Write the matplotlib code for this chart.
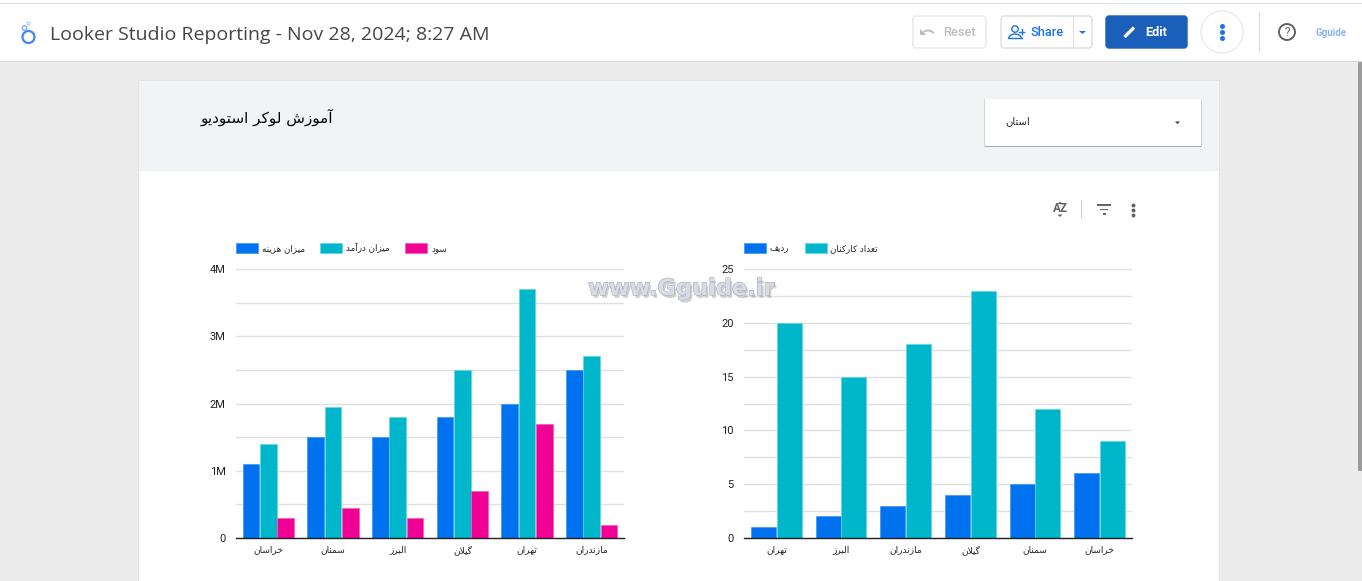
import matplotlib
matplotlib.use('Agg')
import numpy as np
import matplotlib.pyplot as plt
import matplotlib.patheffects as pe
from matplotlib.patches import Rectangle, FancyBboxPatch, Circle, Arc, Polygon

W, H = 1362, 581

# left chart
provinces_left = ['خراسان', 'سمنان', 'البرز', 'گیلان', 'تهران', 'مازندران']
cost = [1100000, 1500000, 1500000, 1800000, 2000000, 2500000]
income = [1400000, 1950000, 1800000, 2500000, 3700000, 2700000]
profit = [300000, 450000, 300000, 700000, 1700000, 200000]
left_ticks = [0, 1000000, 2000000, 3000000, 4000000]
left_ticklabels = ['0', '1M', '2M', '3M', '4M']
left_minor = [500000, 1500000, 2500000, 3500000]

# right chart
provinces_right = ['تهران', 'البرز', 'مازندران', 'گیلان', 'سمنان', 'خراسان']
row_no = [1, 2, 3, 4, 5, 6]
staff = [20, 15, 18, 23, 12, 9]
right_ticks = [0, 5, 10, 15, 20, 25]
right_minor = [2.5, 7.5, 12.5, 17.5, 22.5]

BLUE = '#0072f0'
TEAL = '#00b6cb'
PINK = '#f10096'
BLUE_EDGE = '#3d95f5'
TEAL_EDGE = '#5fd8e6'
PINK_EDGE = '#f75cb8'

# matplotlib does no arabic shaping, so pick the presentation forms by hand
FORMS = {
    'ا': (0xFE8D, 0xFE8E), 'آ': (0xFE81, 0xFE82), 'د': (0xFEA9, 0xFEAA),
    'ر': (0xFEAD, 0xFEAE), 'ز': (0xFEAF, 0xFEB0), 'و': (0xFEED, 0xFEEE),
    'ب': (0xFE8F, 0xFE90, 0xFE91, 0xFE92), 'ت': (0xFE95, 0xFE96, 0xFE97, 0xFE98),
    'خ': (0xFEA5, 0xFEA6, 0xFEA7, 0xFEA8), 'س': (0xFEB1, 0xFEB2, 0xFEB3, 0xFEB4),
    'ش': (0xFEB5, 0xFEB6, 0xFEB7, 0xFEB8), 'ع': (0xFEC9, 0xFECA, 0xFECB, 0xFECC),
    'ف': (0xFED1, 0xFED2, 0xFED3, 0xFED4), 'ک': (0xFB8E, 0xFB8F, 0xFB90, 0xFB91),
    'گ': (0xFB92, 0xFB93, 0xFB94, 0xFB95), 'ل': (0xFEDD, 0xFEDE, 0xFEDF, 0xFEE0),
    'م': (0xFEE1, 0xFEE2, 0xFEE3, 0xFEE4), 'ن': (0xFEE5, 0xFEE6, 0xFEE7, 0xFEE8),
    'ه': (0xFEE9, 0xFEEA, 0xFEEB, 0xFEEC), 'ی': (0xFBFC, 0xFBFD, 0xFBFE, 0xFBFF),
}


def shape(text):
    out = []
    chars = list(text)
    i = 0
    while i < len(chars):
        c = chars[i]
        if c not in FORMS:
            out.append(c)
            i += 1
            continue
        prev = chars[i - 1] if i > 0 else ' '
        joined_prev = prev in FORMS and len(FORMS[prev]) == 4
        if c == 'ل' and i + 1 < len(chars) and chars[i + 1] == 'ا':
            out.append(chr(0xFEFC if joined_prev else 0xFEFB))
            i += 2
            continue
        nxt = chars[i + 1] if i + 1 < len(chars) else ' '
        f = FORMS[c]
        joined_next = nxt in FORMS and len(f) == 4
        if joined_prev and joined_next:
            out.append(chr(f[3]))
        elif joined_prev:
            out.append(chr(f[1]))
        elif joined_next:
            out.append(chr(f[2]))
        else:
            out.append(chr(f[0]))
        i += 1
    return ''.join(reversed(out))


fig = plt.figure(figsize=(W / 100, H / 100), dpi=100, facecolor='#ececec')
plt.rcParams['font.family'] = ['Roboto', 'DejaVu Sans']

# page chrome is drawn on one axes in pixel coordinates
bg = fig.add_axes([0, 0, 1, 1], zorder=0)
bg.set_xlim(0, W)
bg.set_ylim(H, 0)
bg.axis('off')


def box(x0, y0, x1, y1, fc, ec='none', lw=0, z=1):
    bg.add_patch(Rectangle((x0, y0), x1 - x0, y1 - y0, fc=fc, ec=ec, lw=lw, zorder=z))


def rbox(x0, y0, x1, y1, fc, ec, lw=1, r=3, z=2):
    bg.add_patch(FancyBboxPatch((x0 + r, y0 + r), x1 - x0 - 2 * r, y1 - y0 - 2 * r,
                                boxstyle='round,pad=%d,rounding_size=%d' % (r, r),
                                fc=fc, ec=ec, lw=lw, zorder=z))


def dots(x, ys, color, size):
    bg.scatter([x] * len(ys), ys, s=size, color=color, zorder=4, linewidths=0)


# top bar
box(0, 0, W, 3, 'white')
box(0, 3, W, 4, '#e0e0e0')
box(0, 4, W, 61, 'white')
box(0, 61, W, 62, '#d9d9d9')
box(1358, 62, W, 471, '#9c9c9c')
bg.add_patch(Circle((28.5, 37), 6, fc='none', ec='#4285f4', lw=1.6, zorder=3))
bg.add_patch(Circle((24.5, 28), 2.2, fc='none', ec='#7baaf7', lw=1, zorder=3))
bg.add_patch(Circle((28.5, 23.5), 1.5, fc='none', ec='#a8c7fa', lw=0.8, zorder=3))
bg.text(50.5, 34.5, 'Looker Studio Reporting - Nov 28, 2024; 8:27 AM', fontsize=14,
        color='#444746', va='center', ha='left', family=['Open Sans', 'DejaVu Sans'], zorder=3)

# buttons
rbox(913, 16, 986, 48, 'white', '#e8e8e8')
bg.add_patch(Arc((928, 36), 13, 11, theta1=205, theta2=335, ec='#bdbdbd', lw=1.4, zorder=3))
bg.add_patch(Polygon([[920, 29], [920, 35], [926, 35]], fc='#bdbdbd', ec='none', zorder=3))
bg.text(959, 32, 'Reset', fontsize=9.2, color='#bdbdbd', ha='center', va='center', weight='medium', zorder=3)

rbox(1001, 16, 1092, 48, 'white', '#dcdee2')
box(1073, 16, 1074, 48, '#dcdee2', z=3)
bg.add_patch(Circle((1015, 29), 3.2, fc='none', ec='#1a73e8', lw=1, zorder=3))
bg.add_patch(Arc((1015, 39), 13, 10, theta1=180, theta2=360, ec='#1a73e8', lw=1, zorder=3))
bg.plot([1008.5, 1021.5], [38, 38], color='#1a73e8', lw=1, zorder=3)
bg.plot([1019, 1024], [31.5, 31.5], color='#1a73e8', lw=1, zorder=3)
bg.plot([1021.5, 1021.5], [29, 34], color='#1a73e8', lw=1, zorder=3)
bg.text(1047.5, 32, 'Share', fontsize=9.2, color='#1a73e8', ha='center', va='center', weight='medium', zorder=3)
bg.add_patch(Polygon([[1079, 31], [1086, 31], [1082.5, 34]], fc='#1a73e8', ec='none', zorder=3))

rbox(1106, 16, 1187, 48, '#1a5fba', '#1a5fba')
bg.plot([1124.5, 1134], [37, 27.5], color='white', lw=2.4, zorder=3, solid_capstyle='butt')
bg.text(1156.5, 32, 'Edit', fontsize=9.2, color='white', ha='center', va='center', weight='bold', zorder=3)

bg.add_patch(Circle((1222, 32), 21, fc='white', ec='#e8eaed', lw=1, zorder=2))
dots(1222, [25.5, 32, 38], '#1a73e8', 13)
box(1259, 12, 1260, 53, '#dadce0')
bg.add_patch(Circle((1287, 32), 8, fc='none', ec='#5f6368', lw=1.4, zorder=3))
bg.text(1287, 32.3, '?', fontsize=8.5, color='#5f6368', ha='center', va='center', zorder=3)
bg.text(1330.5, 32.5, 'Gguide', fontsize=7, color='#8ab4f0', ha='center', va='center', weight='bold', zorder=3)

# report card
box(138, 80, 1220, H, '#e4e4e4', z=1)
box(139, 81, 1219, H, 'white', z=1)
box(139, 81, 1219, 171, '#f1f3f4', z=1)
bg.text(267, 117, shape('آموزش لوکر استودیو'), fontsize=11, color='black', ha='center', va='center',
        family=['DejaVu Sans'], zorder=3)

# province filter
box(984, 99, 1202, 147, '#d4d4d4', z=2)
box(985, 100, 1201, 147, '#a8a8a8', z=2)
box(985, 99, 1201, 146, 'white', z=3)
bg.text(1018, 121, shape('استان'), fontsize=7.2, color='#222222', ha='center', va='center',
        family=['DejaVu Sans'], zorder=4)
bg.add_patch(Polygon([[1175, 121.5], [1180, 121.5], [1177.5, 124]], fc='#333333', ec='none', zorder=4))

# sort, filter and menu icons
bg.text(1060, 209, 'AZ', fontsize=8.5, color='#5f6368', ha='center', va='center', weight='bold', zorder=3)
bg.add_patch(Polygon([[1057.5, 204], [1062.5, 204], [1060, 201.5]], fc='#5f6368', ec='none', zorder=3))
bg.add_patch(Polygon([[1057.5, 214.5], [1062.5, 214.5], [1060, 217]], fc='#5f6368', ec='none', zorder=3))
box(1081, 200, 1082, 218, '#cfcfcf')
box(1097, 204, 1111, 205.5, '#5f6368', z=3)
box(1100, 208.5, 1108, 210, '#5f6368', z=3)
box(1102.5, 213, 1105.5, 214.5, '#5f6368', z=3)
dots(1133, [205, 210, 215], '#5f6368', 8)


def make_axes(x0, x1, y_top, y_bottom, ypad):
    ax = fig.add_axes([x0 / W, (H - y_bottom) / H, (x1 - x0) / W, (y_bottom - y_top) / H], zorder=2)
    ax.patch.set_alpha(0)
    for name in ['top', 'left', 'right']:
        ax.spines[name].set_visible(False)
    ax.spines['bottom'].set_color('#222222')
    ax.spines['bottom'].set_linewidth(1)
    ax.set_axisbelow(True)
    ax.grid(axis='y', which='both', color='#e0e0e0', linewidth=1)
    ax.tick_params(axis='both', which='both', length=0)
    ax.tick_params(axis='y', labelsize=8, labelcolor='#222222', pad=ypad)
    ax.tick_params(axis='x', labelsize=6.5, labelcolor='#222222', pad=5.2)
    ax.set_xlim(-0.5, 5.5)
    return ax


def finish_legend(ax, handles, labels, spacing):
    fs = 6.3
    leg = ax.legend(handles, [shape(s) for s in labels], loc='lower left', bbox_to_anchor=(0, 1.058),
                    ncol=len(labels), frameon=False, fontsize=fs, borderpad=0, borderaxespad=0,
                    handlelength=15.8 / fs, handleheight=8.6 / fs, handletextpad=0.45, columnspacing=spacing)
    for t in leg.get_texts():
        t.set_family(['DejaVu Sans'])
        t.set_color('#222222')


ax1 = make_axes(236, 624, 269, 538, 7.5)
x = np.arange(len(provinces_left))
w = 0.8 / 3
b1 = ax1.bar(x - w, cost, w * 0.97, color=BLUE, edgecolor=BLUE_EDGE, linewidth=0.5)
b2 = ax1.bar(x, income, w * 0.97, color=TEAL, edgecolor=TEAL_EDGE, linewidth=0.5)
b3 = ax1.bar(x + w, profit, w * 0.97, color=PINK, edgecolor=PINK_EDGE, linewidth=0.5)
ax1.set_ylim(0, 4000000)
ax1.set_yticks(left_ticks, left_ticklabels)
ax1.set_yticks(left_minor, minor=True)
ax1.set_xticks(x, [shape(s) for s in provinces_left], family=['DejaVu Sans'])
finish_legend(ax1, [b1, b2, b3], ['میزان هزینه', 'میزان درآمد', 'سود'], 1.75)

ax2 = make_axes(744, 1132, 269, 538, 7.5)
x = np.arange(len(provinces_right))
w = 0.4
b4 = ax2.bar(x - w / 2, row_no, w * 0.97, color=BLUE, edgecolor=BLUE_EDGE, linewidth=0.5)
b5 = ax2.bar(x + w / 2, staff, w * 0.97, color=TEAL, edgecolor=TEAL_EDGE, linewidth=0.5)
ax2.set_ylim(0, 25)
ax2.set_yticks(right_ticks, [str(v) for v in right_ticks])
ax2.set_yticks(right_minor, minor=True)
ax2.set_xticks(x, [shape(s) for s in provinces_right], family=['DejaVu Sans'])
finish_legend(ax2, [b4, b5], ['ردیف', 'تعداد کارکنان'], 1.75)

# watermark over everything
fig.text(681 / W, (H - 289) / H, 'www.Gguide.ir', fontsize=16.2, weight='bold', color='#d8dce6',
         ha='center', va='center', family=['DejaVu Sans'], zorder=5,
         path_effects=[pe.withSimplePatchShadow(offset=(1.5, -2), shadow_rgbFace='#8a8a8a', alpha=0.4),
                       pe.Stroke(linewidth=0.8, foreground='#a8aeba'), pe.Normal()])

fig.savefig('out.png', dpi=100, facecolor=fig.get_facecolor())
